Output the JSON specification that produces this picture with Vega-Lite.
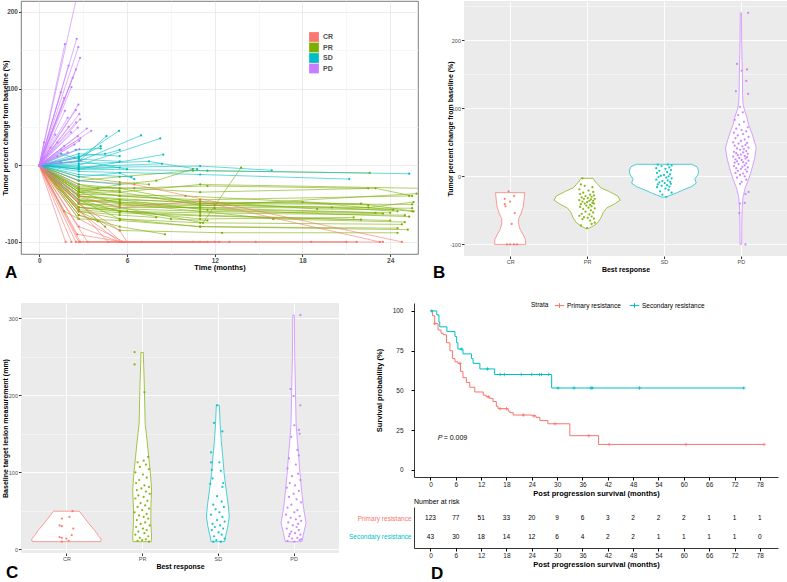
{
  "$schema": "https://vega.github.io/schema/vega-lite/v6.json",
  "padding": 0,
  "background": "white",
  "config": {"font": "Liberation Sans", "view": {"stroke": null}},
  "datasets": {
    "spider": [
      {"id":"g1","r":"PR","t":0,"v":0},{"id":"g1","r":"PR","t":2.7,"v":-35},{"id":"g1","r":"PR","t":5.5,"v":-40},{"id":"g1","r":"PR","t":11,"v":-45},{"id":"g1","r":"PR","t":25.3,"v":-40},
      {"id":"g2","r":"PR","t":0,"v":0},{"id":"g2","r":"PR","t":2.7,"v":-30},{"id":"g2","r":"PR","t":5.5,"v":-35},{"id":"g2","r":"PR","t":11,"v":-25},{"id":"g2","r":"PR","t":26.1,"v":-30},
      {"id":"g3","r":"PR","t":0,"v":0},{"id":"g3","r":"PR","t":2.7,"v":-40},{"id":"g3","r":"PR","t":11,"v":-50},{"id":"g3","r":"PR","t":25.5,"v":-51},
      {"id":"g4","r":"PR","t":0,"v":0},{"id":"g4","r":"PR","t":2.7,"v":-50},{"id":"g4","r":"PR","t":5.5,"v":-55},{"id":"g4","r":"PR","t":11,"v":-55},{"id":"g4","r":"PR","t":25.5,"v":-56},
      {"id":"g5","r":"PR","t":0,"v":0},{"id":"g5","r":"PR","t":2.7,"v":-45},{"id":"g5","r":"PR","t":5.5,"v":-60},{"id":"g5","r":"PR","t":11,"v":-62},{"id":"g5","r":"PR","t":25,"v":-65},
      {"id":"g6","r":"PR","t":0,"v":0},{"id":"g6","r":"PR","t":2.7,"v":-55},{"id":"g6","r":"PR","t":5.5,"v":-60},{"id":"g6","r":"PR","t":11,"v":-65},{"id":"g6","r":"PR","t":24,"v":-72},
      {"id":"g7","r":"PR","t":0,"v":0},{"id":"g7","r":"PR","t":2.7,"v":-60},{"id":"g7","r":"PR","t":5.5,"v":-70},{"id":"g7","r":"PR","t":11,"v":-75},{"id":"g7","r":"PR","t":24.8,"v":-77},
      {"id":"g8","r":"PR","t":0,"v":0},{"id":"g8","r":"PR","t":2.7,"v":-45},{"id":"g8","r":"PR","t":5.5,"v":-70},{"id":"g8","r":"PR","t":11,"v":-80},{"id":"g8","r":"PR","t":25.2,"v":-84},
      {"id":"g9","r":"PR","t":0,"v":0},{"id":"g9","r":"PR","t":2.7,"v":-60},{"id":"g9","r":"PR","t":5.5,"v":-85},{"id":"g9","r":"PR","t":12.5,"v":-88},{"id":"g9","r":"PR","t":24.5,"v":-88},
      {"id":"g10","r":"PR","t":0,"v":0},{"id":"g10","r":"PR","t":2.7,"v":-35},{"id":"g10","r":"PR","t":5.5,"v":-50},{"id":"g10","r":"PR","t":11,"v":-60},{"id":"g10","r":"PR","t":23.5,"v":-63},
      {"id":"g11","r":"PR","t":0,"v":0},{"id":"g11","r":"PR","t":2.7,"v":-25},{"id":"g11","r":"PR","t":5.5,"v":-30},{"id":"g11","r":"PR","t":11.5,"v":-27},{"id":"g11","r":"PR","t":22.5,"v":-30},
      {"id":"g12","r":"PR","t":0,"v":0},{"id":"g12","r":"PR","t":2.7,"v":-20},{"id":"g12","r":"PR","t":5.5,"v":-15},{"id":"g12","r":"PR","t":10.5,"v":-7},{"id":"g12","r":"PR","t":22.6,"v":-10},
      {"id":"g13","r":"PR","t":0,"v":0},{"id":"g13","r":"PR","t":2.7,"v":-50},{"id":"g13","r":"PR","t":9,"v":-70},{"id":"g13","r":"PR","t":11.5,"v":-72},
      {"id":"g14","r":"PR","t":0,"v":0},{"id":"g14","r":"PR","t":2.7,"v":-55},{"id":"g14","r":"PR","t":6,"v":-60},{"id":"g14","r":"PR","t":11,"v":-70},{"id":"g14","r":"PR","t":21.5,"v":-68},
      {"id":"g15","r":"PR","t":0,"v":0},{"id":"g15","r":"PR","t":2.7,"v":-40},{"id":"g15","r":"PR","t":5.5,"v":-45},{"id":"g15","r":"PR","t":11,"v":-48},{"id":"g15","r":"PR","t":22,"v":-50},{"id":"g15","r":"PR","t":25.6,"v":-60},
      {"id":"g16","r":"PR","t":0,"v":0},{"id":"g16","r":"PR","t":2.7,"v":-65},{"id":"g16","r":"PR","t":5.5,"v":-80},{"id":"g16","r":"PR","t":8.6,"v":-90},
      {"id":"g17","r":"PR","t":0,"v":0},{"id":"g17","r":"PR","t":2.7,"v":-50},{"id":"g17","r":"PR","t":4.5,"v":-80},
      {"id":"g18","r":"PR","t":0,"v":0},{"id":"g18","r":"PR","t":1.7,"v":-60},{"id":"g18","r":"PR","t":2.7,"v":-70},
      {"id":"g19","r":"PR","t":0,"v":0},{"id":"g19","r":"PR","t":2.7,"v":-28},{"id":"g19","r":"PR","t":6.5,"v":-30},{"id":"g19","r":"PR","t":11,"v":-35},{"id":"g19","r":"PR","t":23,"v":-30},{"id":"g19","r":"PR","t":25.5,"v":-40},
      {"id":"g20","r":"PR","t":0,"v":0},{"id":"g20","r":"PR","t":2.7,"v":-35},{"id":"g20","r":"PR","t":5.5,"v":-35},{"id":"g20","r":"PR","t":11,"v":-52},{"id":"g20","r":"PR","t":20,"v":-55},{"id":"g20","r":"PR","t":24.5,"v":-60},
      {"id":"g21","r":"PR","t":0,"v":0},{"id":"g21","r":"PR","t":2.7,"v":-45},{"id":"g21","r":"PR","t":5.5,"v":-50},{"id":"g21","r":"PR","t":11,"v":-53},{"id":"g21","r":"PR","t":25.8,"v":-37},
      {"id":"g22","r":"PR","t":0,"v":0},{"id":"g22","r":"PR","t":2.7,"v":-15},{"id":"g22","r":"PR","t":5.5,"v":-22},{"id":"g22","r":"PR","t":7.5,"v":-25},
      {"id":"g23","r":"PR","t":0,"v":0},{"id":"g23","r":"PR","t":2.7,"v":-25},{"id":"g23","r":"PR","t":4,"v":-30},
      {"id":"g24","r":"PR","t":0,"v":0},{"id":"g24","r":"PR","t":2.7,"v":-70},{"id":"g24","r":"PR","t":5.5,"v":-72},{"id":"g24","r":"PR","t":11,"v":-80},{"id":"g24","r":"PR","t":24.5,"v":-82},
      {"id":"g25","r":"PR","t":0,"v":0},{"id":"g25","r":"PR","t":2.7,"v":-40},{"id":"g25","r":"PR","t":5.5,"v":-48},{"id":"g25","r":"PR","t":11.5,"v":-58},{"id":"g25","r":"PR","t":25.3,"v":-67},
      {"id":"g26","r":"PR","t":0,"v":0},{"id":"g26","r":"PR","t":2.7,"v":-50},{"id":"g26","r":"PR","t":5.5,"v":-52},{"id":"g26","r":"PR","t":12,"v":-56},{"id":"g26","r":"PR","t":24,"v":-62},
      {"id":"g27","r":"PR","t":0,"v":0},{"id":"g27","r":"PR","t":2.7,"v":-38},{"id":"g27","r":"PR","t":10,"v":-40},{"id":"g27","r":"PR","t":22.5,"v":-52},
      {"id":"g28","r":"PR","t":0,"v":0},{"id":"g28","r":"PR","t":2.7,"v":-30},{"id":"g28","r":"PR","t":5.5,"v":-30},{"id":"g28","r":"PR","t":11,"v":-50},{"id":"g28","r":"PR","t":18,"v":-48},{"id":"g28","r":"PR","t":25.5,"v":-60},
      {"id":"g29","r":"PR","t":0,"v":0},{"id":"g29","r":"PR","t":2.7,"v":-32},{"id":"g29","r":"PR","t":5.5,"v":-40},{"id":"g29","r":"PR","t":11,"v":-47},{"id":"g29","r":"PR","t":19,"v":-57},{"id":"g29","r":"PR","t":24.2,"v":-58},
      {"id":"g30","r":"PR","t":0,"v":0},{"id":"g30","r":"PR","t":2.7,"v":-48},{"id":"g30","r":"PR","t":5.5,"v":-45},{"id":"g30","r":"PR","t":11,"v":-57},{"id":"g30","r":"PR","t":23,"v":-62},
      {"id":"g31","r":"PR","t":0,"v":0},{"id":"g31","r":"PR","t":2.7,"v":-42},{"id":"g31","r":"PR","t":5.5,"v":-55},{"id":"g31","r":"PR","t":11.2,"v":-75},{"id":"g31","r":"PR","t":13.8,"v":-3},
      {"id":"g32","r":"PR","t":0,"v":0},{"id":"g32","r":"PR","t":2.7,"v":-60},{"id":"g32","r":"PR","t":5.5,"v":-65},{"id":"g32","r":"PR","t":8,"v":-68},
      {"id":"g33","r":"PR","t":0,"v":0},{"id":"g33","r":"PR","t":2.7,"v":-35},{"id":"g33","r":"PR","t":5.5,"v":-25},{"id":"g33","r":"PR","t":8,"v":-20},{"id":"g33","r":"PR","t":10.5,"v":-5},
      {"id":"g34","r":"PR","t":0,"v":0},{"id":"g34","r":"PR","t":2.7,"v":-55},{"id":"g34","r":"PR","t":11,"v":-60},{"id":"g34","r":"PR","t":16,"v":-70},{"id":"g34","r":"PR","t":25,"v":-74},
      {"id":"g35","r":"PR","t":0,"v":0},{"id":"g35","r":"PR","t":2.7,"v":-45},{"id":"g35","r":"PR","t":5.5,"v":-48},{"id":"g35","r":"PR","t":12,"v":-52},{"id":"g35","r":"PR","t":22.5,"v":-55},{"id":"g35","r":"PR","t":25.6,"v":-48},
      {"id":"g36","r":"PR","t":0,"v":0},{"id":"g36","r":"PR","t":2.7,"v":-65},{"id":"g36","r":"PR","t":4,"v":-73},
      {"id":"g37","r":"PR","t":0,"v":0},{"id":"g37","r":"PR","t":2.7,"v":-32},{"id":"g37","r":"PR","t":5.5,"v":-33},
      {"id":"g38","r":"PR","t":0,"v":0},{"id":"g38","r":"PR","t":2.7,"v":-58},{"id":"g38","r":"PR","t":5.5,"v":-62},{"id":"g38","r":"PR","t":11,"v":-66},{"id":"g38","r":"PR","t":22,"v":-71},
      {"id":"c1","r":"CR","t":0,"v":0},{"id":"c1","r":"CR","t":1.8,"v":-100},
      {"id":"c2","r":"CR","t":0,"v":0},{"id":"c2","r":"CR","t":2.2,"v":-100},
      {"id":"c3","r":"CR","t":0,"v":0},{"id":"c3","r":"CR","t":2.5,"v":-100},{"id":"c3","r":"CR","t":5.5,"v":-100},
      {"id":"c4","r":"CR","t":0,"v":0},{"id":"c4","r":"CR","t":2.7,"v":-100},{"id":"c4","r":"CR","t":11,"v":-100},
      {"id":"c5","r":"CR","t":0,"v":0},{"id":"c5","r":"CR","t":2.7,"v":-60},{"id":"c5","r":"CR","t":5.5,"v":-100},{"id":"c5","r":"CR","t":11.5,"v":-100},
      {"id":"c6","r":"CR","t":0,"v":0},{"id":"c6","r":"CR","t":2.7,"v":-50},{"id":"c6","r":"CR","t":5.5,"v":-85},{"id":"c6","r":"CR","t":6,"v":-100},
      {"id":"c7","r":"CR","t":0,"v":0},{"id":"c7","r":"CR","t":2.7,"v":-20},{"id":"c7","r":"CR","t":6.5,"v":-25},{"id":"c7","r":"CR","t":24.8,"v":-100},
      {"id":"c8","r":"CR","t":0,"v":0},{"id":"c8","r":"CR","t":2.7,"v":-40},{"id":"c8","r":"CR","t":5.5,"v":-55},{"id":"c8","r":"CR","t":11,"v":-47},{"id":"c8","r":"CR","t":23.3,"v":-100},
      {"id":"c9","r":"CR","t":0,"v":0},{"id":"c9","r":"CR","t":3.3,"v":-100},{"id":"c9","r":"CR","t":13,"v":-100},{"id":"c9","r":"CR","t":21.7,"v":-100},
      {"id":"c10","r":"CR","t":0,"v":0},{"id":"c10","r":"CR","t":2.8,"v":-100},{"id":"c10","r":"CR","t":14.8,"v":-100},{"id":"c10","r":"CR","t":18.6,"v":-100},{"id":"c10","r":"CR","t":23.5,"v":-100},
      {"id":"c11","r":"CR","t":0,"v":0},{"id":"c11","r":"CR","t":4.7,"v":-100},{"id":"c11","r":"CR","t":7,"v":-100},{"id":"c11","r":"CR","t":10.5,"v":-100},
      {"id":"c12","r":"CR","t":0,"v":0},{"id":"c12","r":"CR","t":2.7,"v":-70},{"id":"c12","r":"CR","t":5.8,"v":-100},{"id":"c12","r":"CR","t":12,"v":-100},
      {"id":"c13","r":"CR","t":0,"v":0},{"id":"c13","r":"CR","t":5.6,"v":-100},
      {"id":"c14","r":"CR","t":0,"v":0},{"id":"c14","r":"CR","t":2.7,"v":-80},{"id":"c14","r":"CR","t":5.5,"v":-100},{"id":"c14","r":"CR","t":21,"v":-100},
      {"id":"c15","r":"CR","t":0,"v":0},{"id":"c15","r":"CR","t":2.6,"v":-90},{"id":"c15","r":"CR","t":5.7,"v":-100},{"id":"c15","r":"CR","t":12.3,"v":-100},
      {"id":"s1","r":"SD","t":0,"v":0},{"id":"s1","r":"SD","t":2.7,"v":10},{"id":"s1","r":"SD","t":5.45,"v":45},
      {"id":"s2","r":"SD","t":0,"v":0},{"id":"s2","r":"SD","t":2.7,"v":5},{"id":"s2","r":"SD","t":6.96,"v":39},
      {"id":"s3","r":"SD","t":0,"v":0},{"id":"s3","r":"SD","t":2.7,"v":0},{"id":"s3","r":"SD","t":8.27,"v":35},
      {"id":"s4","r":"SD","t":0,"v":0},{"id":"s4","r":"SD","t":2.7,"v":-5},{"id":"s4","r":"SD","t":8.48,"v":14},
      {"id":"s5","r":"SD","t":0,"v":0},{"id":"s5","r":"SD","t":2.7,"v":5},{"id":"s5","r":"SD","t":4.59,"v":38},
      {"id":"s6","r":"SD","t":0,"v":0},{"id":"s6","r":"SD","t":2.7,"v":10},{"id":"s6","r":"SD","t":4.2,"v":25},
      {"id":"s7","r":"SD","t":0,"v":0},{"id":"s7","r":"SD","t":2.7,"v":-2},{"id":"s7","r":"SD","t":8.39,"v":2},
      {"id":"s8","r":"SD","t":0,"v":0},{"id":"s8","r":"SD","t":2.7,"v":-3},{"id":"s8","r":"SD","t":11,"v":-1},{"id":"s8","r":"SD","t":15.9,"v":-6.5},
      {"id":"s9","r":"SD","t":0,"v":0},{"id":"s9","r":"SD","t":2.7,"v":-5},{"id":"s9","r":"SD","t":11.5,"v":-7},{"id":"s9","r":"SD","t":25.3,"v":-11},
      {"id":"s10","r":"SD","t":0,"v":0},{"id":"s10","r":"SD","t":2.7,"v":-8},{"id":"s10","r":"SD","t":11,"v":-12},{"id":"s10","r":"SD","t":21.2,"v":-18},
      {"id":"s11","r":"SD","t":0,"v":0},{"id":"s11","r":"SD","t":2.7,"v":2},{"id":"s11","r":"SD","t":7.5,"v":5},{"id":"s11","r":"SD","t":10.8,"v":-5},
      {"id":"s12","r":"SD","t":0,"v":0},{"id":"s12","r":"SD","t":2.7,"v":-20},{"id":"s12","r":"SD","t":5.5,"v":-25},
      {"id":"s13","r":"SD","t":0,"v":0},{"id":"s13","r":"SD","t":2.7,"v":15},{"id":"s13","r":"SD","t":5.5,"v":12},
      {"id":"s14","r":"SD","t":0,"v":0},{"id":"s14","r":"SD","t":2.7,"v":-12},{"id":"s14","r":"SD","t":6.3,"v":-15},
      {"id":"s15","r":"SD","t":0,"v":0},{"id":"s15","r":"SD","t":2.5,"v":20},{"id":"s15","r":"SD","t":4.2,"v":22},
      {"id":"s16","r":"SD","t":0,"v":0},{"id":"s16","r":"SD","t":2.7,"v":6},{"id":"s16","r":"SD","t":6,"v":-5},
      {"id":"s17","r":"SD","t":0,"v":0},{"id":"s17","r":"SD","t":1.5,"v":15},{"id":"s17","r":"SD","t":2.7,"v":8},{"id":"s17","r":"SD","t":5.5,"v":5},
      {"id":"s18","r":"SD","t":0,"v":0},{"id":"s18","r":"SD","t":2.7,"v":-15},{"id":"s18","r":"SD","t":5.5,"v":-10},{"id":"s18","r":"SD","t":6.5,"v":-18},
      {"id":"s19","r":"SD","t":0,"v":0},{"id":"s19","r":"SD","t":2.7,"v":12},{"id":"s19","r":"SD","t":4.5,"v":15},{"id":"s19","r":"SD","t":5.5,"v":20},
      {"id":"s20","r":"SD","t":0,"v":0},{"id":"s20","r":"SD","t":2.7,"v":-5},{"id":"s20","r":"SD","t":5.5,"v":-3},
      {"id":"p1","r":"PD","t":0,"v":0},{"id":"p1","r":"PD","t":2.8,"v":240},
      {"id":"p2","r":"PD","t":0,"v":0},{"id":"p2","r":"PD","t":1.75,"v":158},
      {"id":"p3","r":"PD","t":0,"v":0},{"id":"p3","r":"PD","t":2.56,"v":165},
      {"id":"p4","r":"PD","t":0,"v":0},{"id":"p4","r":"PD","t":2.67,"v":154},
      {"id":"p5","r":"PD","t":0,"v":0},{"id":"p5","r":"PD","t":2.79,"v":140},
      {"id":"p6","r":"PD","t":0,"v":0},{"id":"p6","r":"PD","t":2.51,"v":125},
      {"id":"p7","r":"PD","t":0,"v":0},{"id":"p7","r":"PD","t":2.28,"v":114},
      {"id":"p8","r":"PD","t":0,"v":0},{"id":"p8","r":"PD","t":2.2,"v":102},
      {"id":"p9","r":"PD","t":0,"v":0},{"id":"p9","r":"PD","t":1.47,"v":95},
      {"id":"p10","r":"PD","t":0,"v":0},{"id":"p10","r":"PD","t":1.75,"v":71},
      {"id":"p11","r":"PD","t":0,"v":0},{"id":"p11","r":"PD","t":2.67,"v":79},
      {"id":"p12","r":"PD","t":0,"v":0},{"id":"p12","r":"PD","t":2.74,"v":67},
      {"id":"p13","r":"PD","t":0,"v":0},{"id":"p13","r":"PD","t":1.94,"v":62},
      {"id":"p14","r":"PD","t":0,"v":0},{"id":"p14","r":"PD","t":2.51,"v":56},
      {"id":"p15","r":"PD","t":0,"v":0},{"id":"p15","r":"PD","t":2.63,"v":49},
      {"id":"p16","r":"PD","t":0,"v":0},{"id":"p16","r":"PD","t":3.25,"v":48},
      {"id":"p17","r":"PD","t":0,"v":0},{"id":"p17","r":"PD","t":3.55,"v":45},
      {"id":"p18","r":"PD","t":0,"v":0},{"id":"p18","r":"PD","t":2.17,"v":43},
      {"id":"p19","r":"PD","t":0,"v":0},{"id":"p19","r":"PD","t":2.63,"v":38},
      {"id":"p20","r":"PD","t":0,"v":0},{"id":"p20","r":"PD","t":2.74,"v":32},
      {"id":"p21","r":"PD","t":0,"v":0},{"id":"p21","r":"PD","t":2.4,"v":27},
      {"id":"p22","r":"PD","t":0,"v":0},{"id":"p22","r":"PD","t":1.7,"v":25},
      {"id":"p23","r":"PD","t":0,"v":0},{"id":"p23","r":"PD","t":2.74,"v":21},
      {"id":"p24","r":"PD","t":0,"v":0},{"id":"p24","r":"PD","t":1.24,"v":30},
      {"id":"p25","r":"PD","t":0,"v":0},{"id":"p25","r":"PD","t":0.78,"v":23},
      {"id":"p26","r":"PD","t":0,"v":0},{"id":"p26","r":"PD","t":0.32,"v":30},
      {"id":"p27","r":"PD","t":0,"v":0},{"id":"p27","r":"PD","t":1.94,"v":17},
      {"id":"p28","r":"PD","t":0,"v":0},{"id":"p28","r":"PD","t":1.24,"v":12},
      {"id":"p29","r":"PD","t":0,"v":0},{"id":"p29","r":"PD","t":2.86,"v":6},
      {"id":"p30","r":"PD","t":0,"v":0},{"id":"p30","r":"PD","t":2.4,"v":10},
      {"id":"p31","r":"PD","t":0,"v":0},{"id":"p31","r":"PD","t":1.47,"v":4},
      {"id":"p32","r":"PD","t":0,"v":0},{"id":"p32","r":"PD","t":2.6,"v":-38},
      {"id":"p33","r":"PD","t":0,"v":0},{"id":"p33","r":"PD","t":2.75,"v":-47},
      {"id":"p34","r":"PD","t":0,"v":0},{"id":"p34","r":"PD","t":1.7,"v":88},
      {"id":"p35","r":"PD","t":0,"v":0},{"id":"p35","r":"PD","t":2.0,"v":130},
      {"id":"p36","r":"PD","t":0,"v":0},{"id":"p36","r":"PD","t":2.5,"v":72},
      {"id":"p37","r":"PD","t":0,"v":0},{"id":"p37","r":"PD","t":2.8,"v":60},
      {"id":"p38","r":"PD","t":0,"v":0},{"id":"p38","r":"PD","t":1.1,"v":40},
      {"id":"p39","r":"PD","t":0,"v":0},{"id":"p39","r":"PD","t":1.5,"v":20},{"id":"p39","r":"PD","t":2.8,"v":35},
      {"id":"p40","r":"PD","t":0,"v":0},{"id":"p40","r":"PD","t":2.0,"v":50},
      {"id":"p41","r":"PD","t":0,"v":0},{"id":"p41","r":"PD","t":2.7,"v":-28}
    ],
    "bvio": [
      {"r":"CR","v":-24,"x":0.81,"x2":1.19},{"r":"CR","v":-35,"x":0.82,"x2":1.18},{"r":"CR","v":-45,"x":0.83,"x2":1.17},{"r":"CR","v":-55,"x":0.86,"x2":1.14},{"r":"CR","v":-62,"x":0.89,"x2":1.11},{"r":"CR","v":-70,"x":0.89,"x2":1.11},{"r":"CR","v":-78,"x":0.87,"x2":1.13},{"r":"CR","v":-86,"x":0.83,"x2":1.17},{"r":"CR","v":-93,"x":0.8,"x2":1.2},{"r":"CR","v":-100,"x":0.8,"x2":1.2},
      {"r":"PR","v":-3,"x":1.92,"x2":2.08},{"r":"PR","v":-7,"x":1.9,"x2":2.1},{"r":"PR","v":-12,"x":1.86,"x2":2.14},{"r":"PR","v":-17,"x":1.82,"x2":2.18},{"r":"PR","v":-22,"x":1.72,"x2":2.28},{"r":"PR","v":-29,"x":1.6,"x2":2.4},{"r":"PR","v":-35,"x":1.57,"x2":2.43},{"r":"PR","v":-41,"x":1.65,"x2":2.35},{"r":"PR","v":-46,"x":1.74,"x2":2.26},{"r":"PR","v":-53,"x":1.79,"x2":2.21},{"r":"PR","v":-61,"x":1.82,"x2":2.18},{"r":"PR","v":-68,"x":1.86,"x2":2.14},{"r":"PR","v":-73,"x":1.92,"x2":2.08},{"r":"PR","v":-76.4,"x":1.98,"x2":2.02},
      {"r":"SD","v":17.6,"x":2.64,"x2":3.36},{"r":"SD","v":14,"x":2.57,"x2":3.43},{"r":"SD","v":8,"x":2.55,"x2":3.45},{"r":"SD","v":2,"x":2.56,"x2":3.44},{"r":"SD","v":-4,"x":2.6,"x2":3.4},{"r":"SD","v":-10,"x":2.58,"x2":3.42},{"r":"SD","v":-15,"x":2.64,"x2":3.36},{"r":"SD","v":-20,"x":2.75,"x2":3.25},{"r":"SD","v":-25,"x":2.85,"x2":3.15},{"r":"SD","v":-28,"x":2.92,"x2":3.08},{"r":"SD","v":-30.4,"x":2.97,"x2":3.03},
      {"r":"PD","v":240,"x":3.992,"x2":4.008},{"r":"PD","v":200,"x":3.99,"x2":4.01},{"r":"PD","v":169,"x":3.985,"x2":4.015},{"r":"PD","v":150,"x":3.98,"x2":4.02},{"r":"PD","v":120,"x":3.978,"x2":4.022},{"r":"PD","v":106,"x":3.972,"x2":4.028},{"r":"PD","v":96,"x":3.95,"x2":4.05},{"r":"PD","v":88.5,"x":3.926,"x2":4.074},{"r":"PD","v":76,"x":3.9,"x2":4.1},{"r":"PD","v":62,"x":3.853,"x2":4.147},{"r":"PD","v":42,"x":3.8,"x2":4.2},{"r":"PD","v":27,"x":3.82,"x2":4.18},{"r":"PD","v":12.6,"x":3.853,"x2":4.147},{"r":"PD","v":-2,"x":3.892,"x2":4.108},{"r":"PD","v":-17,"x":3.944,"x2":4.056},{"r":"PD","v":-31,"x":3.972,"x2":4.028},{"r":"PD","v":-46,"x":3.983,"x2":4.017},{"r":"PD","v":-61,"x":3.987,"x2":4.013},{"r":"PD","v":-100,"x":3.99,"x2":4.01}
    ],
    "bpts": [
      {"r":"CR","x":0.98,"v":-22},{"r":"CR","x":1.05,"v":-29},{"r":"CR","x":0.93,"v":-33},{"r":"CR","x":1.0,"v":-37},{"r":"CR","x":0.93,"v":-41},{"r":"CR","x":0.94,"v":-44},{"r":"CR","x":1.06,"v":-54},{"r":"CR","x":1.02,"v":-70},{"r":"CR","x":0.96,"v":-100},{"r":"CR","x":1.0,"v":-100},{"r":"CR","x":1.05,"v":-100},{"r":"CR","x":1.09,"v":-100},
      {"r":"PR","x":1.94,"v":-3},{"r":"PR","x":1.92,"v":-12},{"r":"PR","x":1.97,"v":-14},{"r":"PR","x":2.07,"v":-16},{"r":"PR","x":1.9,"v":-19},{"r":"PR","x":2.02,"v":-21},{"r":"PR","x":2.08,"v":-23},{"r":"PR","x":1.95,"v":-24},{"r":"PR","x":1.91,"v":-26},{"r":"PR","x":2.04,"v":-27},{"r":"PR","x":2.09,"v":-28},{"r":"PR","x":1.98,"v":-29},{"r":"PR","x":2.06,"v":-30},{"r":"PR","x":1.93,"v":-31},{"r":"PR","x":2.01,"v":-32},{"r":"PR","x":2.1,"v":-33},{"r":"PR","x":1.96,"v":-33},{"r":"PR","x":2.05,"v":-34},{"r":"PR","x":1.9,"v":-35},{"r":"PR","x":2.03,"v":-36},{"r":"PR","x":2.08,"v":-36},{"r":"PR","x":1.94,"v":-37},{"r":"PR","x":2.0,"v":-38},{"r":"PR","x":2.07,"v":-39},{"r":"PR","x":1.97,"v":-40},{"r":"PR","x":2.09,"v":-40},{"r":"PR","x":1.92,"v":-41},{"r":"PR","x":2.04,"v":-42},{"r":"PR","x":1.99,"v":-43},{"r":"PR","x":2.06,"v":-44},{"r":"PR","x":1.91,"v":-45},{"r":"PR","x":2.02,"v":-46},{"r":"PR","x":2.1,"v":-47},{"r":"PR","x":1.95,"v":-48},{"r":"PR","x":2.05,"v":-50},{"r":"PR","x":1.98,"v":-52},{"r":"PR","x":2.08,"v":-53},{"r":"PR","x":1.93,"v":-55},{"r":"PR","x":2.03,"v":-56},{"r":"PR","x":1.9,"v":-58},{"r":"PR","x":2.06,"v":-59},{"r":"PR","x":1.96,"v":-60},{"r":"PR","x":2.01,"v":-61},{"r":"PR","x":2.09,"v":-62},{"r":"PR","x":1.94,"v":-63},{"r":"PR","x":2.04,"v":-65},{"r":"PR","x":2.1,"v":-68},{"r":"PR","x":1.92,"v":-72},{"r":"PR","x":2.06,"v":-70},{"r":"PR","x":2.0,"v":-76},
      {"r":"SD","x":2.92,"v":17},{"r":"SD","x":3.05,"v":17},{"r":"SD","x":3.1,"v":16},{"r":"SD","x":2.97,"v":15},{"r":"SD","x":3.07,"v":13},{"r":"SD","x":2.9,"v":12},{"r":"SD","x":3.02,"v":11},{"r":"SD","x":3.09,"v":9},{"r":"SD","x":2.94,"v":8},{"r":"SD","x":3.04,"v":6},{"r":"SD","x":2.91,"v":5},{"r":"SD","x":3.08,"v":3},{"r":"SD","x":3.0,"v":2},{"r":"SD","x":2.96,"v":1},{"r":"SD","x":3.06,"v":0},{"r":"SD","x":2.93,"v":-1},{"r":"SD","x":3.03,"v":-2},{"r":"SD","x":3.1,"v":-3},{"r":"SD","x":2.9,"v":-5},{"r":"SD","x":3.05,"v":-6},{"r":"SD","x":2.98,"v":-7},{"r":"SD","x":3.08,"v":-8},{"r":"SD","x":2.94,"v":-9},{"r":"SD","x":3.01,"v":-10},{"r":"SD","x":3.09,"v":-11},{"r":"SD","x":2.92,"v":-12},{"r":"SD","x":3.04,"v":-13},{"r":"SD","x":2.97,"v":-14},{"r":"SD","x":3.07,"v":-15},{"r":"SD","x":2.91,"v":-16},{"r":"SD","x":3.02,"v":-18},{"r":"SD","x":3.06,"v":-20},{"r":"SD","x":2.95,"v":-22},{"r":"SD","x":3.1,"v":-24},{"r":"SD","x":2.98,"v":-27},{"r":"SD","x":3.03,"v":-30},
      {"r":"PD","x":4.095,"v":240},{"r":"PD","x":3.95,"v":165},{"r":"PD","x":4.01,"v":155},{"r":"PD","x":4.08,"v":157},{"r":"PD","x":4.07,"v":140},{"r":"PD","x":3.935,"v":125},{"r":"PD","x":4.095,"v":121},{"r":"PD","x":3.99,"v":102},{"r":"PD","x":4.026,"v":94},{"r":"PD","x":3.965,"v":90},
      {"r":"PD","x":3.92,"v":83},{"r":"PD","x":4.04,"v":80},{"r":"PD","x":3.98,"v":76},{"r":"PD","x":4.09,"v":72},{"r":"PD","x":3.94,"v":70},{"r":"PD","x":4.01,"v":68},{"r":"PD","x":4.07,"v":66},{"r":"PD","x":3.91,"v":64},{"r":"PD","x":4.03,"v":62},{"r":"PD","x":3.96,"v":60},{"r":"PD","x":4.1,"v":58},{"r":"PD","x":3.93,"v":56},{"r":"PD","x":4.05,"v":54},{"r":"PD","x":4.0,"v":52},{"r":"PD","x":3.9,"v":50},{"r":"PD","x":4.08,"v":49},{"r":"PD","x":3.97,"v":48},{"r":"PD","x":4.06,"v":46},{"r":"PD","x":3.92,"v":45},{"r":"PD","x":4.02,"v":44},{"r":"PD","x":4.1,"v":42},{"r":"PD","x":3.95,"v":41},{"r":"PD","x":4.04,"v":40},{"r":"PD","x":3.99,"v":39},{"r":"PD","x":4.07,"v":37},{"r":"PD","x":3.91,"v":36},{"r":"PD","x":4.03,"v":35},{"r":"PD","x":3.94,"v":34},{"r":"PD","x":4.09,"v":33},{"r":"PD","x":4.0,"v":32},{"r":"PD","x":3.96,"v":31},{"r":"PD","x":4.05,"v":30},{"r":"PD","x":3.9,"v":29},{"r":"PD","x":4.08,"v":28},{"r":"PD","x":3.98,"v":27},{"r":"PD","x":4.06,"v":26},{"r":"PD","x":3.93,"v":25},{"r":"PD","x":4.01,"v":24},{"r":"PD","x":4.1,"v":23},{"r":"PD","x":3.95,"v":22},{"r":"PD","x":4.03,"v":21},{"r":"PD","x":3.92,"v":20},{"r":"PD","x":4.07,"v":19},{"r":"PD","x":3.97,"v":18},{"r":"PD","x":4.05,"v":16},{"r":"PD","x":3.91,"v":15},{"r":"PD","x":4.02,"v":14},{"r":"PD","x":4.09,"v":13},{"r":"PD","x":3.94,"v":12},{"r":"PD","x":4.0,"v":11},{"r":"PD","x":4.06,"v":10},{"r":"PD","x":3.96,"v":8},{"r":"PD","x":4.08,"v":7},{"r":"PD","x":3.93,"v":5},{"r":"PD","x":4.03,"v":4},{"r":"PD","x":3.99,"v":2},{"r":"PD","x":4.05,"v":0},{"r":"PD","x":3.95,"v":-2},{"r":"PD","x":4.07,"v":-5},{"r":"PD","x":4.01,"v":-8},
      {"r":"PD","x":4.1,"v":-23},{"r":"PD","x":4.06,"v":-26},{"r":"PD","x":4.05,"v":-39},{"r":"PD","x":3.99,"v":-40},{"r":"PD","x":3.98,"v":-54},{"r":"PD","x":4.06,"v":-100},{"r":"PD","x":3.99,"v":-11}
    ],
    "cvio": [
      {"r":"CR","v":49.5,"x":0.83,"x2":1.17},{"r":"CR","v":40,"x":0.755,"x2":1.245},{"r":"CR","v":33,"x":0.7,"x2":1.3},{"r":"CR","v":25,"x":0.63,"x2":1.37},{"r":"CR","v":18,"x":0.58,"x2":1.42},{"r":"CR","v":13,"x":0.54,"x2":1.46},{"r":"CR","v":10,"x":0.55,"x2":1.45},
      {"r":"PR","v":255.6,"x":1.985,"x2":2.015},{"r":"PR","v":240,"x":1.98,"x2":2.02},{"r":"PR","v":206,"x":1.97,"x2":2.03},{"r":"PR","v":163,"x":1.96,"x2":2.04},{"r":"PR","v":141,"x":1.935,"x2":2.065},{"r":"PR","v":120,"x":1.913,"x2":2.087},{"r":"PR","v":98,"x":1.89,"x2":2.11},{"r":"PR","v":77,"x":1.875,"x2":2.125},{"r":"PR","v":55,"x":1.885,"x2":2.115},{"r":"PR","v":34,"x":1.885,"x2":2.115},{"r":"PR","v":16,"x":1.875,"x2":2.125},{"r":"PR","v":10,"x":1.88,"x2":2.12},
      {"r":"SD","v":187,"x":2.98,"x2":3.02},{"r":"SD","v":163,"x":2.97,"x2":3.03},{"r":"SD","v":141,"x":2.955,"x2":3.045},{"r":"SD","v":120,"x":2.935,"x2":3.065},{"r":"SD","v":98,"x":2.917,"x2":3.083},{"r":"SD","v":77,"x":2.89,"x2":3.11},{"r":"SD","v":55,"x":2.86,"x2":3.14},{"r":"SD","v":42,"x":2.85,"x2":3.15},{"r":"SD","v":29,"x":2.87,"x2":3.13},{"r":"SD","v":16,"x":2.9,"x2":3.1},{"r":"SD","v":10,"x":2.91,"x2":3.09},
      {"r":"PD","v":304,"x":3.99,"x2":4.01},{"r":"PD","v":250,"x":3.985,"x2":4.015},{"r":"PD","v":206,"x":3.975,"x2":4.025},{"r":"PD","v":163,"x":3.967,"x2":4.033},{"r":"PD","v":141,"x":3.95,"x2":4.05},{"r":"PD","v":120,"x":3.932,"x2":4.068},{"r":"PD","v":98,"x":3.915,"x2":4.085},{"r":"PD","v":77,"x":3.895,"x2":4.105},{"r":"PD","v":55,"x":3.87,"x2":4.13},{"r":"PD","v":34,"x":3.835,"x2":4.165},{"r":"PD","v":22,"x":3.865,"x2":4.135},{"r":"PD","v":10,"x":3.89,"x2":4.11}
    ],
    "cpts": [
      {"r":"CR","x":1.08,"v":49.5},{"r":"CR","x":0.94,"v":40},{"r":"CR","x":1.04,"v":42},{"r":"CR","x":0.91,"v":31},{"r":"CR","x":0.94,"v":30},{"r":"CR","x":1.09,"v":27},{"r":"CR","x":1.07,"v":18.5},{"r":"CR","x":0.91,"v":16},{"r":"CR","x":0.94,"v":15},{"r":"CR","x":1.0,"v":14},{"r":"CR","x":1.03,"v":11},{"r":"CR","x":0.94,"v":10},
      {"r":"PR","x":1.9,"v":256},{"r":"PR","x":1.9,"v":240},{"r":"PR","x":2.03,"v":204},{"r":"PR","x":2.08,"v":120},{"r":"PR","x":2.02,"v":115},{"r":"PR","x":1.94,"v":113},{"r":"PR","x":2.05,"v":110},{"r":"PR","x":1.97,"v":107},{"r":"PR","x":2.09,"v":104},{"r":"PR","x":1.91,"v":100},{"r":"PR","x":2.01,"v":97},{"r":"PR","x":2.06,"v":93},{"r":"PR","x":1.96,"v":90},{"r":"PR","x":1.92,"v":86},{"r":"PR","x":2.03,"v":83},{"r":"PR","x":2.09,"v":81},{"r":"PR","x":1.99,"v":79},{"r":"PR","x":1.93,"v":77},{"r":"PR","x":2.05,"v":75},{"r":"PR","x":2.1,"v":72},{"r":"PR","x":1.95,"v":70},{"r":"PR","x":2.02,"v":68},{"r":"PR","x":1.91,"v":66},{"r":"PR","x":2.07,"v":63},{"r":"PR","x":1.98,"v":60},{"r":"PR","x":2.04,"v":57},{"r":"PR","x":1.94,"v":55},{"r":"PR","x":2.09,"v":53},{"r":"PR","x":2.0,"v":51},{"r":"PR","x":1.9,"v":48},{"r":"PR","x":2.06,"v":46},{"r":"PR","x":1.96,"v":44},{"r":"PR","x":2.02,"v":42},{"r":"PR","x":2.08,"v":40},{"r":"PR","x":1.93,"v":38},{"r":"PR","x":2.04,"v":35},{"r":"PR","x":1.98,"v":33},{"r":"PR","x":2.1,"v":31},{"r":"PR","x":1.92,"v":29},{"r":"PR","x":2.01,"v":27},{"r":"PR","x":2.06,"v":25},{"r":"PR","x":1.95,"v":23},{"r":"PR","x":2.03,"v":21},{"r":"PR","x":1.91,"v":19},{"r":"PR","x":2.08,"v":17},{"r":"PR","x":1.97,"v":15},{"r":"PR","x":2.05,"v":13},{"r":"PR","x":2.0,"v":12},{"r":"PR","x":1.94,"v":11},{"r":"PR","x":2.09,"v":10},
      {"r":"SD","x":2.99,"v":187},{"r":"SD","x":2.95,"v":164},{"r":"SD","x":3.06,"v":153},{"r":"SD","x":2.91,"v":126},{"r":"SD","x":2.91,"v":113},{"r":"SD","x":3.02,"v":113},{"r":"SD","x":2.92,"v":103},{"r":"SD","x":3.04,"v":102},{"r":"SD","x":2.93,"v":92},{"r":"SD","x":3.07,"v":86},{"r":"SD","x":2.9,"v":85},{"r":"SD","x":3.06,"v":81},{"r":"SD","x":2.99,"v":69},{"r":"SD","x":3.05,"v":62},{"r":"SD","x":2.94,"v":58},{"r":"SD","x":3.08,"v":55},{"r":"SD","x":2.97,"v":52},{"r":"SD","x":3.02,"v":48},{"r":"SD","x":2.91,"v":45},{"r":"SD","x":3.06,"v":42},{"r":"SD","x":2.99,"v":38},{"r":"SD","x":3.09,"v":36},{"r":"SD","x":2.93,"v":33},{"r":"SD","x":3.03,"v":31},{"r":"SD","x":2.96,"v":29},{"r":"SD","x":3.07,"v":27},{"r":"SD","x":2.92,"v":25},{"r":"SD","x":3.01,"v":22},{"r":"SD","x":3.05,"v":19},{"r":"SD","x":2.95,"v":17},{"r":"SD","x":3.09,"v":14},{"r":"SD","x":2.98,"v":12},{"r":"SD","x":3.04,"v":10},{"r":"SD","x":2.94,"v":10},
      {"r":"PD","x":4.09,"v":304},{"r":"PD","x":3.96,"v":208},{"r":"PD","x":4.0,"v":199},{"r":"PD","x":4.09,"v":187},{"r":"PD","x":4.01,"v":161},{"r":"PD","x":3.97,"v":146},{"r":"PD","x":4.07,"v":155},{"r":"PD","x":4.08,"v":150},{"r":"PD","x":4.05,"v":129},{"r":"PD","x":4.07,"v":122},{"r":"PD","x":3.94,"v":118},{"r":"PD","x":4.03,"v":110},{"r":"PD","x":3.92,"v":105},{"r":"PD","x":4.06,"v":98},{"r":"PD","x":3.98,"v":95},{"r":"PD","x":4.09,"v":90},{"r":"PD","x":3.95,"v":86},{"r":"PD","x":4.02,"v":83},{"r":"PD","x":3.91,"v":80},{"r":"PD","x":4.07,"v":76},{"r":"PD","x":4.0,"v":72},{"r":"PD","x":3.94,"v":68},{"r":"PD","x":4.04,"v":65},{"r":"PD","x":4.1,"v":61},{"r":"PD","x":3.97,"v":58},{"r":"PD","x":3.92,"v":54},{"r":"PD","x":4.05,"v":51},{"r":"PD","x":4.01,"v":48},{"r":"PD","x":3.9,"v":45},{"r":"PD","x":4.08,"v":43},{"r":"PD","x":3.96,"v":41},{"r":"PD","x":4.03,"v":39},{"r":"PD","x":4.1,"v":37},{"r":"PD","x":3.93,"v":35},{"r":"PD","x":4.06,"v":33},{"r":"PD","x":3.99,"v":31},{"r":"PD","x":4.04,"v":29},{"r":"PD","x":3.91,"v":27},{"r":"PD","x":4.07,"v":25},{"r":"PD","x":3.97,"v":23},{"r":"PD","x":4.02,"v":21},{"r":"PD","x":4.09,"v":19},{"r":"PD","x":3.94,"v":17},{"r":"PD","x":4.05,"v":15},{"r":"PD","x":3.98,"v":14},{"r":"PD","x":4.08,"v":12},{"r":"PD","x":3.92,"v":11},{"r":"PD","x":4.01,"v":10},{"r":"PD","x":4.1,"v":13},{"r":"PD","x":3.95,"v":20}
    ],
    "km": [
      {"g":"Primary resistance","t":0,"s":100},{"g":"Primary resistance","t":0.5,"s":97},{"g":"Primary resistance","t":1,"s":92},{"g":"Primary resistance","t":1.8,"s":88},{"g":"Primary resistance","t":2.5,"s":86},{"g":"Primary resistance","t":3,"s":85},{"g":"Primary resistance","t":3.8,"s":80},{"g":"Primary resistance","t":4.6,"s":75},{"g":"Primary resistance","t":5.2,"s":70},{"g":"Primary resistance","t":5.8,"s":68},{"g":"Primary resistance","t":6.5,"s":67},{"g":"Primary resistance","t":7.1,"s":62},{"g":"Primary resistance","t":7.7,"s":58},{"g":"Primary resistance","t":8.5,"s":55},{"g":"Primary resistance","t":9.3,"s":52},{"g":"Primary resistance","t":10.5,"s":49},{"g":"Primary resistance","t":12.5,"s":47},{"g":"Primary resistance","t":13.2,"s":46},{"g":"Primary resistance","t":14,"s":45},{"g":"Primary resistance","t":14.8,"s":43},{"g":"Primary resistance","t":15.6,"s":40},{"g":"Primary resistance","t":16,"s":38.5},{"g":"Primary resistance","t":18.4,"s":37},{"g":"Primary resistance","t":18.8,"s":36},{"g":"Primary resistance","t":19.6,"s":34.5},{"g":"Primary resistance","t":24,"s":34},{"g":"Primary resistance","t":25,"s":33},{"g":"Primary resistance","t":25.9,"s":31},{"g":"Primary resistance","t":27.8,"s":29},{"g":"Primary resistance","t":33,"s":21.5},{"g":"Primary resistance","t":39.8,"s":16},{"g":"Primary resistance","t":79,"s":16},
      {"g":"Secondary resistance","t":0,"s":100},{"g":"Secondary resistance","t":1.5,"s":97.5},{"g":"Secondary resistance","t":2.0,"s":93},{"g":"Secondary resistance","t":2.2,"s":90},{"g":"Secondary resistance","t":3.9,"s":87},{"g":"Secondary resistance","t":5.8,"s":84},{"g":"Secondary resistance","t":6.2,"s":80},{"g":"Secondary resistance","t":6.5,"s":76},{"g":"Secondary resistance","t":7.7,"s":73},{"g":"Secondary resistance","t":9.7,"s":70},{"g":"Secondary resistance","t":10.1,"s":67},{"g":"Secondary resistance","t":11.7,"s":63.5},{"g":"Secondary resistance","t":15.2,"s":60},{"g":"Secondary resistance","t":28.7,"s":51.5},{"g":"Secondary resistance","t":74.2,"s":51.5}
    ],
    "cens": [
      {"g":"Primary resistance","t":1.0,"s":92},{"g":"Primary resistance","t":7.0,"s":67},{"g":"Primary resistance","t":13.7,"s":46},{"g":"Primary resistance","t":16.5,"s":38.5},{"g":"Primary resistance","t":18,"s":38.5},{"g":"Primary resistance","t":22,"s":34.5},{"g":"Primary resistance","t":24.5,"s":34},{"g":"Primary resistance","t":29.5,"s":29},{"g":"Primary resistance","t":37.5,"s":21.5},{"g":"Primary resistance","t":42.3,"s":16},{"g":"Primary resistance","t":60.5,"s":16},{"g":"Primary resistance","t":79,"s":16},
      {"g":"Secondary resistance","t":0.3,"s":100},{"g":"Secondary resistance","t":7.3,"s":76},{"g":"Secondary resistance","t":13.5,"s":63.5},{"g":"Secondary resistance","t":16.5,"s":60},{"g":"Secondary resistance","t":17.5,"s":60},{"g":"Secondary resistance","t":21.5,"s":60},{"g":"Secondary resistance","t":24,"s":60},{"g":"Secondary resistance","t":25.8,"s":60},{"g":"Secondary resistance","t":26.3,"s":60},{"g":"Secondary resistance","t":28,"s":60},{"g":"Secondary resistance","t":30.2,"s":51.5},{"g":"Secondary resistance","t":34,"s":51.5},{"g":"Secondary resistance","t":38,"s":51.5},{"g":"Secondary resistance","t":38.3,"s":51.5},{"g":"Secondary resistance","t":49.5,"s":51.5},{"g":"Secondary resistance","t":74.2,"s":51.5}
    ],
    "pval": [{"t":1.7,"s":20}],
    "risk": [
      {"g":"Primary resistance","t":0,"n":123},{"g":"Primary resistance","t":6,"n":77},{"g":"Primary resistance","t":12,"n":51},{"g":"Primary resistance","t":18,"n":33},{"g":"Primary resistance","t":24,"n":20},{"g":"Primary resistance","t":30,"n":9},{"g":"Primary resistance","t":36,"n":6},{"g":"Primary resistance","t":42,"n":3},{"g":"Primary resistance","t":48,"n":2},{"g":"Primary resistance","t":54,"n":2},{"g":"Primary resistance","t":60,"n":2},{"g":"Primary resistance","t":66,"n":1},{"g":"Primary resistance","t":72,"n":1},{"g":"Primary resistance","t":78,"n":1},
      {"g":"Secondary resistance","t":0,"n":43},{"g":"Secondary resistance","t":6,"n":30},{"g":"Secondary resistance","t":12,"n":18},{"g":"Secondary resistance","t":18,"n":14},{"g":"Secondary resistance","t":24,"n":12},{"g":"Secondary resistance","t":30,"n":6},{"g":"Secondary resistance","t":36,"n":4},{"g":"Secondary resistance","t":42,"n":2},{"g":"Secondary resistance","t":48,"n":2},{"g":"Secondary resistance","t":54,"n":1},{"g":"Secondary resistance","t":60,"n":1},{"g":"Secondary resistance","t":66,"n":1},{"g":"Secondary resistance","t":72,"n":1},{"g":"Secondary resistance","t":78,"n":0}
    ]
  },
  "spacing": 18,
  "resolve": {"scale": {"color": "independent", "stroke": "independent"}, "legend": {"color": "independent", "stroke": "independent"}},
  "vconcat": [
    {
      "spacing": 14,
      "resolve": {"scale": {"color": "independent", "stroke": "independent"}, "legend": {"color": "independent", "stroke": "independent"}},
      "hconcat": [
        {
          "width": 397,
          "height": 253,
          "data": {"name": "spider"},
          "view": {"fill": "white", "stroke": "#5c5c5c", "strokeWidth": 0.8},
          "title": {"text": "A", "orient": "bottom", "anchor": "start", "frame": "group", "dx": -16, "offset": -6, "fontSize": 17, "fontWeight": "bold", "baseline": "top", "color": "black"},
          "encoding": {
            "x": {"field": "t", "type": "quantitative", "title": "Time (months)",
              "scale": {"domain": [-1.25, 25.9], "nice": false, "zero": false},
              "axis": {"values": [0, 3, 6, 9, 12, 15, 18, 21, 24], "labelExpr": "datum.value % 6 === 0 ? '' + datum.value : ''",
                "domain": false, "tickSize": 2.5, "tickColor": {"condition": {"test": "datum.value % 6 !== 0", "value": "rgba(0,0,0,0)"}, "value": "#333333"},
                "gridColor": {"condition": {"test": "datum.value % 6 !== 0", "value": "#F3F3F3"}, "value": "#E4E4E4"}, "gridWidth": 0.7,
                "labelFontSize": 6.5, "labelFontWeight": "bold", "labelColor": "#4D4D4D", "labelPadding": 0.5, "labelFlush": false, "labelOverlap": false,
                "titleFontSize": 7.5, "titleFontWeight": "bold", "titleColor": "black", "titlePadding": 0}},
            "y": {"field": "v", "type": "quantitative", "title": "Tumor percent change from baseline (%)",
              "scale": {"domain": [-115.7, 214.3], "nice": false, "zero": false},
              "axis": {"values": [-100, -50, 0, 50, 100, 150, 200], "labelExpr": "datum.value % 100 === 0 ? '' + datum.value : ''",
                "domain": false, "tickSize": 2.5, "tickColor": {"condition": {"test": "datum.value % 100 !== 0", "value": "rgba(0,0,0,0)"}, "value": "#333333"},
                "gridColor": {"condition": {"test": "datum.value % 100 !== 0", "value": "#F3F3F3"}, "value": "#E4E4E4"}, "gridWidth": 0.7,
                "labelFontSize": 6.5, "labelFontWeight": "bold", "labelColor": "#4D4D4D", "labelPadding": 1, "labelFlush": false, "labelOverlap": false,
                "titleFontSize": 7, "titleFontWeight": "bold", "titleColor": "black", "titleX": -13}},
            "color": {"field": "r", "type": "nominal", "scale": {"domain": ["CR", "PR", "SD", "PD"], "range": ["#F8766D", "#7CAE00", "#00BFC4", "#C77CFF"]},
              "legend": {"title": null, "orient": "none", "legendX": 288, "legendY": 31, "symbolType": "square", "symbolSize": 95, "symbolStrokeWidth": 0, "symbolOpacity": 1, "symbolFillColor": null, "rowPadding": 0.5, "labelFontSize": 7, "labelFontWeight": "bold", "labelColor": "#4D4D4D", "labelOffset": 4}}
          },
          "layer": [
            {"mark": {"type": "circle", "size": 5, "opacity": 1, "clip": true}},
            {"mark": {"type": "line", "strokeWidth": 0.7, "opacity": 0.85, "clip": true},
             "encoding": {"detail": {"field": "id"}}}
          ]
        },
        {
          "width": 323,
          "height": 255,
          "view": {"fill": "#EBEBEB", "stroke": null},
          "title": {"text": "B", "orient": "bottom", "anchor": "start", "frame": "group", "dx": -31, "offset": -7, "fontSize": 17, "fontWeight": "bold", "baseline": "top", "color": "black"},
          "encoding": {
            "x": {"field": "x", "type": "quantitative", "title": "Best response",
              "scale": {"domain": [0.4, 4.6], "nice": false, "zero": false},
              "axis": {"values": [1, 2, 3, 4], "labelExpr": "['CR','PR','SD','PD'][datum.value - 1]", "domain": false, "tickSize": 2.5, "tickColor": "#333333",
                "gridColor": "white", "gridWidth": 0.9, "labelFontSize": 5.5, "labelColor": "#4D4D4D", "labelPadding": 1, "labelFlush": false,
                "titleFontSize": 7, "titleFontWeight": "bold", "titleColor": "black", "titlePadding": 0}},
            "y": {"field": "v", "type": "quantitative", "title": "Tumor percent change from baseline (%)",
              "scale": {"domain": [-117, 257.4], "nice": false, "zero": false},
              "axis": {"values": [-100, -50, 0, 50, 100, 150, 200, 250], "labelExpr": "datum.value % 100 === 0 ? '' + datum.value : ''", "domain": false, "tickSize": 2.5,
                "tickColor": {"condition": {"test": "datum.value % 100 !== 0", "value": "rgba(0,0,0,0)"}, "value": "#333333"},
                "gridColor": "white", "gridWidth": {"condition": {"test": "datum.value % 100 !== 0", "value": 0.45}, "value": 0.9},
                "labelFontSize": 5.5, "labelColor": "#4D4D4D", "labelPadding": 1, "labelFlush": false, "labelOverlap": false,
                "titleFontSize": 7, "titleFontWeight": "bold", "titleColor": "black", "titleX": -11}}
          },
          "layer": [
            {"data": {"name": "bvio"}, "mark": {"type": "area", "orient": "horizontal", "fill": "white", "strokeWidth": 0.7},
             "encoding": {"x2": {"field": "x2"}, "stroke": {"field": "r", "type": "nominal", "scale": {"domain": ["CR", "PR", "SD", "PD"], "range": ["#F8766D", "#7CAE00", "#00BFC4", "#C77CFF"]}, "legend": null}}},
            {"data": {"name": "bpts"}, "mark": {"type": "circle", "size": 5, "opacity": 0.9},
             "encoding": {"color": {"field": "r", "type": "nominal", "scale": {"domain": ["CR", "PR", "SD", "PD"], "range": ["#F8766D", "#7CAE00", "#00BFC4", "#C77CFF"]}, "legend": null}}}
          ]
        }
      ]
    },
    {
      "spacing": 9,
      "resolve": {"scale": {"color": "independent", "stroke": "independent"}, "legend": {"color": "independent", "stroke": "independent"}},
      "hconcat": [
        {
          "width": 318,
          "height": 250,
          "view": {"fill": "#EBEBEB", "stroke": null},
          "title": {"text": "C", "orient": "bottom", "anchor": "start", "frame": "group", "dx": -15, "offset": -4, "fontSize": 17, "fontWeight": "bold", "baseline": "top", "color": "black"},
          "encoding": {
            "x": {"field": "x", "type": "quantitative", "title": "Best response",
              "scale": {"domain": [0.4, 4.6], "nice": false, "zero": false},
              "axis": {"values": [1, 2, 3, 4], "labelExpr": "['CR','PR','SD','PD'][datum.value - 1]", "domain": false, "tickSize": 2.5, "tickColor": "#333333",
                "gridColor": "white", "gridWidth": 0.9, "labelFontSize": 5.5, "labelColor": "#4D4D4D", "labelPadding": 1, "labelFlush": false,
                "titleFontSize": 7, "titleFontWeight": "bold", "titleColor": "black", "titlePadding": 0}},
            "y": {"field": "v", "type": "quantitative", "title": "Baseline target lesion measurement (mm)",
              "scale": {"domain": [-4.75, 319.75], "nice": false, "zero": false},
              "axis": {"values": [0, 50, 100, 150, 200, 250, 300], "labelExpr": "datum.value % 100 === 0 ? '' + datum.value : ''", "domain": false, "tickSize": 2.5,
                "tickColor": {"condition": {"test": "datum.value % 100 !== 0", "value": "rgba(0,0,0,0)"}, "value": "#333333"},
                "gridColor": "white", "gridWidth": {"condition": {"test": "datum.value % 100 !== 0", "value": 0.45}, "value": 0.9},
                "labelFontSize": 5.5, "labelColor": "#4D4D4D", "labelPadding": 1, "labelFlush": false, "labelOverlap": false,
                "titleFontSize": 7, "titleFontWeight": "bold", "titleColor": "black", "titleX": -13}}
          },
          "layer": [
            {"data": {"name": "cvio"}, "mark": {"type": "area", "orient": "horizontal", "fill": "white", "strokeWidth": 0.7},
             "encoding": {"x2": {"field": "x2"}, "stroke": {"field": "r", "type": "nominal", "scale": {"domain": ["CR", "PR", "SD", "PD"], "range": ["#F8766D", "#7CAE00", "#00BFC4", "#C77CFF"]}, "legend": null}}},
            {"data": {"name": "cpts"}, "mark": {"type": "circle", "size": 5, "opacity": 0.9},
             "encoding": {"color": {"field": "r", "type": "nominal", "scale": {"domain": ["CR", "PR", "SD", "PD"], "range": ["#F8766D", "#7CAE00", "#00BFC4", "#C77CFF"]}, "legend": null}}}
          ]
        },
        {
          "spacing": 1,
          "title": {"text": "D", "orient": "bottom", "anchor": "start", "frame": "group", "dx": 17, "offset": -2, "fontSize": 17, "fontWeight": "bold", "baseline": "top", "color": "black"},
          "vconcat": [
            {
              "width": 364,
              "height": 174,
              "encoding": {
                "x": {"field": "t", "type": "quantitative", "title": "Post progression survival (months)",
                  "scale": {"domain": [-3.9, 82.3], "nice": false, "zero": false},
                  "axis": {"values": [0, 6, 12, 18, 24, 30, 36, 42, 48, 54, 60, 66, 72, 78], "grid": false, "domainColor": "black", "domainWidth": 0.8, "tickColor": "black", "tickSize": 3,
                    "labelFontSize": 6.5, "labelColor": "#222222", "labelPadding": 1.5, "labelFlush": false, "titleFontSize": 7.5, "titleFontWeight": "bold", "titleColor": "black", "titlePadding": 1}},
                "y": {"field": "s", "type": "quantitative", "title": "Survival probability (%)",
                  "scale": {"domain": [-4.5, 105], "nice": false, "zero": false},
                  "axis": {"values": [0, 25, 50, 75, 100], "grid": false, "domainColor": "black", "domainWidth": 0.8, "tickColor": "black", "tickSize": 3,
                    "labelFontSize": 6.5, "labelColor": "#222222", "labelPadding": 8, "labelFlush": false, "titleFontSize": 7.5, "titleFontWeight": "bold", "titleColor": "black", "titlePadding": 9}}
              },
              "layer": [
                {"data": {"name": "km"}, "mark": {"type": "line", "interpolate": "step-after", "strokeWidth": 1},
                 "encoding": {"stroke": {"field": "g", "type": "nominal", "scale": {"domain": ["Primary resistance", "Secondary resistance"], "range": ["#F8766D", "#00BFC4"]},
                   "legend": {"title": "Strata", "orient": "none", "legendX": 117, "legendY": -3, "direction": "horizontal", "titleOrient": "left", "titleFontSize": 6.5, "titleFontWeight": "normal", "titleColor": "black", "titlePadding": 5,
                     "labelFontSize": 6.5, "labelColor": "black", "labelOffset": 2, "columnPadding": 6, "symbolType": "M-1,0L1,0M0,-0.5L0,0.5", "symbolSize": 90, "symbolStrokeWidth": 1}}}},
                {"data": {"name": "cens"}, "mark": {"type": "point", "shape": "M-1,0L1,0M0,-1L0,1", "filled": false, "size": 12, "strokeWidth": 0.8, "opacity": 1},
                 "encoding": {"stroke": {"field": "g", "type": "nominal", "scale": {"domain": ["Primary resistance", "Secondary resistance"], "range": ["#F8766D", "#00BFC4"]},
                   "legend": {"title": "Strata", "orient": "none", "legendX": 117, "legendY": -3, "direction": "horizontal", "titleOrient": "left", "titleFontSize": 6.5, "titleFontWeight": "normal", "titleColor": "black", "titlePadding": 5,
                     "labelFontSize": 6.5, "labelColor": "black", "labelOffset": 2, "columnPadding": 6, "symbolType": "M-1,0L1,0M0,-0.5L0,0.5", "symbolSize": 90, "symbolStrokeWidth": 1}}}},
                {"data": {"name": "pval"}, "mark": {"type": "text", "align": "left", "baseline": "middle", "fontStyle": "italic", "fontSize": 7, "color": "black"},
                 "encoding": {"text": {"value": "P"}}},
                {"data": {"name": "pval"}, "mark": {"type": "text", "align": "left", "baseline": "middle", "dx": 6, "fontSize": 7, "color": "black"},
                 "encoding": {"text": {"value": "= 0.009"}}}
              ]
            },
            {
              "width": 364,
              "height": 41,
              "data": {"name": "risk"},
              "title": {"text": "Number at risk", "anchor": "start", "frame": "group", "fontSize": 7, "fontWeight": "normal", "color": "black", "offset": 2},
              "mark": {"type": "text", "fontSize": 6.5, "color": "black", "baseline": "middle"},
              "encoding": {
                "x": {"field": "t", "type": "quantitative", "title": "Post progression survival (months)",
                  "scale": {"domain": [-3.9, 82.3], "nice": false, "zero": false},
                  "axis": {"values": [0, 6, 12, 18, 24, 30, 36, 42, 48, 54, 60, 66, 72, 78], "grid": false, "domainColor": "black", "domainWidth": 0.8, "tickColor": "black", "tickSize": 3,
                    "labelFontSize": 6.5, "labelColor": "#222222", "labelPadding": 1.5, "labelFlush": false, "titleFontSize": 7.5, "titleFontWeight": "bold", "titleColor": "black", "titlePadding": 1}},
                "y": {"field": "g", "type": "nominal", "title": null,
                  "scale": {"type": "point", "padding": 0.58, "domain": ["Primary resistance", "Secondary resistance"]},
                  "axis": {"grid": false, "ticks": false, "domainColor": "black", "domainWidth": 0.8, "labelFontSize": 6.5, "labelPadding": 3,
                    "labelColor": {"condition": {"test": "datum.value === 'Primary resistance'", "value": "#F8766D"}, "value": "#00BFC4"}}},
                "text": {"field": "n", "type": "quantitative"}
              }
            }
          ]
        }
      ]
    }
  ]
}
